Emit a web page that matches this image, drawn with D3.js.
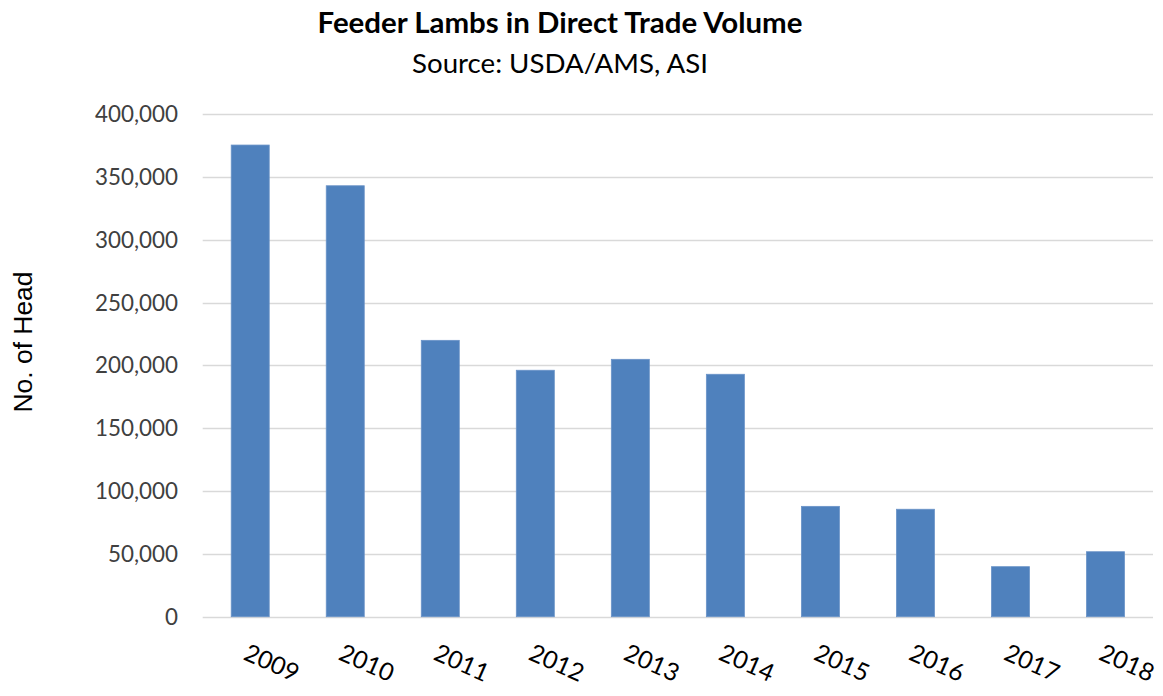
<!DOCTYPE html>
<html>
<head>
<meta charset="utf-8">
<script src="https://cdn.jsdelivr.net/npm/d3@7"></script>
<style>
  html, body { margin: 0; padding: 0; background: #fff; }
  svg { display: block; }
</style>
</head>
<body>
<svg id="chart" width="1163" height="696"></svg>
<script>
// ---- Data ----
const years = ["2009","2010","2011","2012","2013","2014","2015","2016","2017","2018"];
const head = [375300, 342900, 219900, 196100, 204800, 192900, 87800, 85500, 39800, 51700];
const yTicks = [0, 50000, 100000, 150000, 200000, 250000, 300000, 350000, 400000];
const titleText = "Feeder Lambs in Direct Trade Volume";
const subtitleText = "Source: USDA/AMS, ASI";
const yAxisTitle = "No. of Head";

// ---- Layout ----
const svg = d3.select("#chart");
const plot = { left: 202.7, right: 1153, top: 114, bottom: 616.7 };
const calibriLike = "Lato, 'Open Sans', sans-serif";

const x = d3.scaleBand().domain(years).range([plot.left, plot.right])
  .paddingInner(0.6).paddingOuter(0.3);
const y = d3.scaleLinear().domain([0, 400000]).range([plot.bottom, plot.top]);

function fit(sel, target) {
  const node = sel.node();
  const fs = parseFloat(sel.attr("font-size"));
  const w = node.getComputedTextLength();
  if (w > 0) sel.attr("font-size", (fs * target / w).toFixed(2));
  return sel;
}

// gridlines
svg.append("g").selectAll("line").data(yTicks).join("line")
  .attr("x1", plot.left).attr("x2", plot.right)
  .attr("y1", d => Math.round(y(d)) + 0.5).attr("y2", d => Math.round(y(d)) + 0.5)
  .attr("stroke", "#d9d9d9").attr("stroke-width", 1.3);

// y tick labels
const fmt = d3.format(",");
const yl = svg.append("g").selectAll("text").data(yTicks).join("text")
  .attr("x", 178).attr("y", d => y(d))
  .attr("dy", "0.36em")
  .attr("text-anchor", "end")
  .attr("font-family", calibriLike)
  .attr("font-size", 22)
  .attr("fill", "#404040")
  .text(d => fmt(d));
{
  const top = yl.filter(d => d === 400000);
  const fs = parseFloat(top.attr("font-size"));
  const w = top.node().getComputedTextLength();
  yl.attr("font-size", (fs * 83 / w).toFixed(2));
}

// bars
svg.append("g").selectAll("rect").data(years).join("rect")
  .attr("x", d => x(d))
  .attr("width", x.bandwidth())
  .attr("y", (d, i) => y(head[i]))
  .attr("height", (d, i) => y(0) - y(head[i]))
  .attr("fill", "#4f81bd")
  .attr("stroke", "#6a93c8").attr("stroke-width", 0.8);

// x labels, rotated
const xl = svg.append("g").selectAll("text").data(years).join("text")
  .attr("transform", d => `translate(${x(d) + x.bandwidth() / 2 - 8},659) rotate(24)`)
  .attr("text-anchor", "start")
  .attr("font-family", calibriLike)
  .attr("font-size", 26)
  .attr("fill", "#000")
  .text(d => d);
{
  const first = xl.filter(d => d === "2009");
  const fs = parseFloat(first.attr("font-size"));
  const w = first.node().getComputedTextLength();
  xl.attr("font-size", (fs * 57 / w).toFixed(2));
}

// title
const t = svg.append("text")
  .attr("x", 560).attr("y", 33)
  .attr("text-anchor", "middle")
  .attr("font-family", calibriLike)
  .attr("font-weight", "bold")
  .attr("font-size", 27)
  .attr("fill", "#000")
  .text(titleText);
fit(t, 485);

const st = svg.append("text")
  .attr("x", 560).attr("y", 73)
  .attr("text-anchor", "middle")
  .attr("font-family", calibriLike)
  .attr("font-size", 27)
  .attr("fill", "#000")
  .text(subtitleText);
fit(st, 296);

// y axis title
const yt = svg.append("text")
  .attr("transform", "translate(32,342) rotate(-90)")
  .attr("text-anchor", "middle")
  .attr("font-family", "'Liberation Sans', Arial, sans-serif")
  .attr("font-size", 24)
  .attr("fill", "#000")
  .text(yAxisTitle);
fit(yt, 141);
</script>
</body>
</html>
